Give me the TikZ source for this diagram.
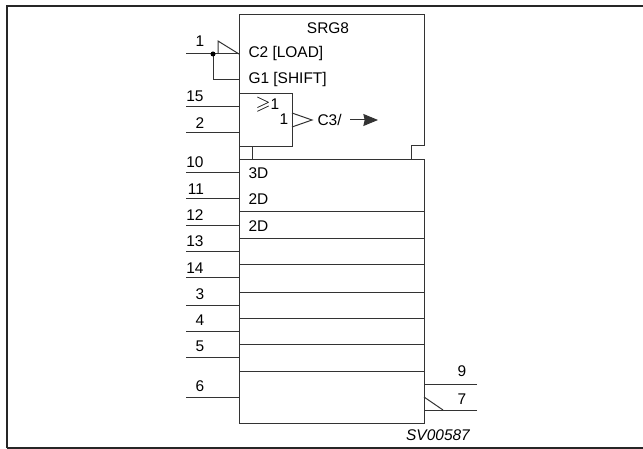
\documentclass[tikz,border=0pt]{standalone}
\usepackage{amssymb}
\usepackage{fontspec}
\setmainfont{Liberation Sans}
\usetikzlibrary{arrows.meta,positioning}
\tikzset{
    lbl/.style={inner sep=0pt, font=\fontsize{11.6pt}{13pt}\selectfont},
    pin/.style={line width=0.75pt, color=black!80},
    frm/.style={line width=1.5pt, color=black!85},
}
\begin{document}
\begin{tikzpicture}[x=0.75pt, y=-0.75pt, line width=0.75pt]
    \useasboundingbox (0,0) rectangle (643,449);
    % outer frame
    \coordinate (fa) at (7,448);
    \coordinate (fb) at (7,6);
    \coordinate (fc) at (643,6);
    \coordinate (fd) at (643,447.5);
    \coordinate (fe) at (7,447.5);
    \draw[frm] (fa) -- (fb) -- (fc);
    \draw[frm] (fd) -- (fe);

    % upper block and lower block
    \coordinate (ua) at (239,160);
    \coordinate (ub) at (239,15);
    \coordinate (uc) at (424,15);
    \coordinate (ud) at (424,146);
    \coordinate (ue) at (411,146);
    \coordinate (uf) at (411,160);
    \draw[pin] (ua) -- (ub) -- (uc) -- (ud) -- (ue) -- (uf);
    \node[draw, pin, minimum width=138.75pt, minimum height=197.25pt, inner sep=0pt] (reg) at (331.5,291.5) {};
    \node[draw, pin, minimum width=39.75pt, minimum height=39.75pt, inner sep=0pt] (orb) at (265.5,120) {};
    \draw[pin] (orb.south -| 252,0) -- (reg.north -| 252,0);

    % row lines
    \coordinate (ra) at (239,212);
    \coordinate (rb) at (239,239);
    \coordinate (rc) at (239,265);
    \coordinate (rd) at (239,292);
    \coordinate (re) at (239,318);
    \coordinate (rf) at (239,344);
    \coordinate (rg) at (239,371);
    \draw[pin] (ra) -- (ra -| reg.east);
    \draw[pin] (rb) -- (rb -| reg.east);
    \draw[pin] (rc) -- (rc -| reg.east);
    \draw[pin] (rd) -- (rd -| reg.east);
    \draw[pin] (re) -- (re -| reg.east);
    \draw[pin] (rf) -- (rf -| reg.east);
    \draw[pin] (rg) -- (rg -| reg.east);

    % clock input
    \coordinate (p1) at (186,54);
    \coordinate (c2) at (239,54);
    \coordinate (g1) at (239,80);
    \coordinate (ta) at (218,54);
    \coordinate (tb) at (218,41);
    \coordinate (jn) at (213,54);
    \draw[pin] (p1) -- (c2);
    \draw[pin] (ta) -- (tb) -- (c2);
    \draw[pin] (jn) |- (g1);
    \fill (jn) circle (2.5);

    % inputs
    \coordinate (p15) at (186,106.5);
    \coordinate (p2) at (186,133);
    \coordinate (p10) at (186,173);
    \coordinate (p11) at (186,199);
    \coordinate (p12) at (186,226);
    \coordinate (p13) at (186,252);
    \coordinate (p14) at (186,278);
    \coordinate (p3) at (186,305);
    \coordinate (p4) at (186,331);
    \coordinate (p5) at (186,357);
    \coordinate (p6) at (186,397);
    \draw[pin] (p15) -- (p15 -| orb.west);
    \draw[pin] (p2) -- (p2 -| orb.west);
    \draw[pin] (p10) -- (p10 -| reg.west);
    \draw[pin] (p11) -- (p11 -| reg.west);
    \draw[pin] (p12) -- (p12 -| reg.west);
    \draw[pin] (p13) -- (p13 -| reg.west);
    \draw[pin] (p14) -- (p14 -| reg.west);
    \draw[pin] (p3) -- (p3 -| reg.west);
    \draw[pin] (p4) -- (p4 -| reg.west);
    \draw[pin] (p5) -- (p5 -| reg.west);
    \draw[pin] (p6) -- (p6 -| reg.west);

    % outputs
    \coordinate (p9) at (477,384);
    \coordinate (p7) at (477,410);
    \coordinate (qa) at (424,397);
    \coordinate (qb) at (443,410);
    \draw[pin] (p9) -- (p9 -| reg.east);
    \draw[pin] (p7) -- (p7 -| reg.east);
    \draw[pin] (qa) -- (qb);

    % output of the or block
    \coordinate (oa) at (292,113);
    \coordinate (ob) at (312,120);
    \coordinate (oc) at (292,127);
    \draw[pin] (oa) -- (ob) -- (oc);
    \coordinate (aa) at (350,120);
    \coordinate (ab) at (378,120);
    \draw[pin, -{Stealth[length=11pt,width=9pt,inset=1pt]}] (aa) -- (ab);

    % pin numbers
    \node[lbl] (n1) at (200,41) {1};
    \node[lbl] (n15) at (195,96) {15};
    \node[lbl] (n2) at (200,123) {2};
    \node[lbl] (n10) at (195,162) {10};
    \node[lbl] (n11) at (196,189) {11};
    \node[lbl] (n12) at (195,215) {12};
    \node[lbl] (n13) at (195,241) {13};
    \node[lbl] (n14) at (195,268) {14};
    \node[lbl] (n3) at (200,294) {3};
    \node[lbl] (n4) at (200,320) {4};
    \node[lbl] (n5) at (200,346) {5};
    \node[lbl] (n6) at (200,386) {6};
    \node[lbl] (n9) at (462,371.5) {9};
    \node[lbl] (n7) at (462,399) {7};

    % block text
    \node[lbl] (srg) at (328,28) {SRG8};
    \node[lbl, anchor=west] (tc2) at (248,54) {C2 [LOAD]};
    \node[lbl, anchor=west] (tg1) at (248,80) {G1 [SHIFT]};
    \node[lbl] (tge) at (267.5,105) {\scalebox{1.25}{$\geqslant$}1};
    \node[lbl] (tor) at (284,119) {1};
    \node[lbl, anchor=west] (tc3) at (317,120) {C3/};
    \node[lbl, anchor=west] (t3d) at (248,173) {3D};
    \node[lbl, anchor=west] (t2d) at (248,199) {2D};
    \node[lbl, anchor=west] (t2e) at (248,226) {2D};
    \node[lbl, font=\fontsize{11.6pt}{13pt}\selectfont\itshape] (sv) at (438,435) {SV00587};
\end{tikzpicture}
\end{document}
